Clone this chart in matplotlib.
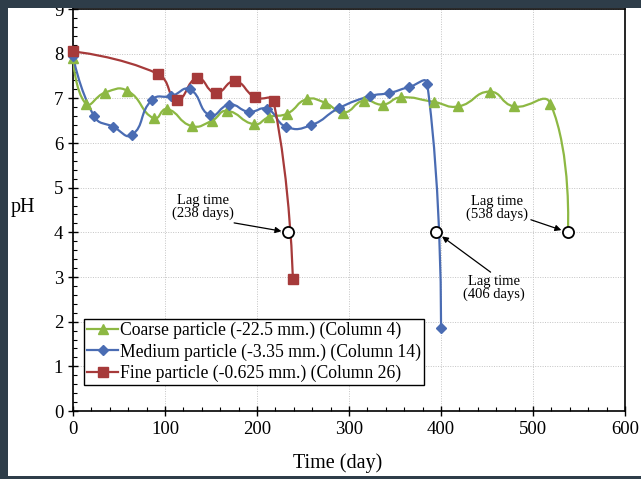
import numpy as np
import matplotlib.pyplot as plt
from matplotlib.path import Path
from matplotlib.patches import PathPatch, Rectangle
from matplotlib.ticker import MultipleLocator

plt.rcParams['font.family'] = ['Liberation Serif', 'DejaVu Serif']

# data
coarse_x = [0, 14, 35, 59, 88, 102, 129, 151, 167, 197, 213, 233, 254, 274,
            294, 316, 337, 356, 392, 419, 453, 479, 519, 538]
coarse_y = [7.9, 6.88, 7.13, 7.17, 6.55, 6.76, 6.38, 6.5, 6.72, 6.42, 6.58,
            6.66, 6.98, 6.9, 6.68, 6.95, 6.86, 7.02, 6.92, 6.82, 7.15, 6.82,
            6.88, 4.0]
medium_x = [0, 23, 44, 64, 86, 107, 127, 149, 170, 191, 211, 232, 259, 289,
            323, 344, 365, 385, 400]
medium_y = [7.95, 6.6, 6.36, 6.18, 6.97, 7.05, 7.2, 6.62, 6.86, 6.7, 6.76,
            6.36, 6.4, 6.78, 7.05, 7.12, 7.25, 7.33, 1.85]
fine_x = [0, 92, 113, 135, 155, 176, 198, 218, 239]
fine_y = [8.05, 7.55, 6.97, 7.45, 7.12, 7.38, 7.02, 6.93, 2.95]

lag_x = [234, 395, 538]
lag_y = [4.0, 4.0, 4.0]
lag_labels = ['Lag time\n(238 days)', 'Lag time\n(406 days)', 'Lag time\n(538 days)']

labels = ['Coarse particle (-22.5 mm.) (Column 4)',
          'Medium particle (-3.35 mm.) (Column 14)',
          'Fine particle (-0.625 mm.) (Column 26)']

green = '#8db843'
blue = '#4a6cb3'
red = '#a63a3a'

# pixels per data unit, used only to weigh the smoothing handles
SX, SY = 552 / 600, 402 / 9


def smooth_path(x, y, s=0.5):
    # smoothed line through the points (cubic Bezier segments)
    pts = np.column_stack([x, y]).astype(float)
    n = len(pts)
    seg = np.hypot(np.diff(pts[:, 0]) * SX, np.diff(pts[:, 1]) * SY)
    c_in = [None] * n
    c_out = [None] * n
    for i in range(n):
        if i == 0 or i == n - 1:
            c_in[i] = c_out[i] = pts[i]
            continue
        t = pts[i + 1] - pts[i - 1]
        d0, d1 = seg[i - 1], seg[i]
        c_in[i] = pts[i] - t * s * d0 / (d0 + d1)
        c_out[i] = pts[i] + t * s * d1 / (d0 + d1)
    verts = [pts[0]]
    codes = [Path.MOVETO]
    for i in range(n - 1):
        verts += [c_out[i], c_in[i + 1], pts[i + 1]]
        codes += [Path.CURVE4] * 3
    return Path(verts, codes)


fig = plt.figure(figsize=(6.41, 4.79), dpi=100)
ax = fig.add_axes([73 / 641, 68 / 479, 552 / 641, 402 / 479])

series = [
    (coarse_x[:-1], coarse_y[:-1], coarse_x, coarse_y, green, '^', 7),
    (medium_x, medium_y, medium_x, medium_y, blue, 'D', 5),
    (fine_x, fine_y, fine_x, fine_y, red, 's', 7),
]
handles = []
for (mx, my, lx, ly, col, mk, ms), lab in zip(series, labels):
    ax.add_patch(PathPatch(smooth_path(lx, ly), facecolor='none',
                           edgecolor=col, lw=1.6, zorder=3))
    ax.plot(mx, my, ls='none', marker=mk, ms=ms, color=col, zorder=4,
            clip_on=False)
    h, = ax.plot([], [], color=col, lw=1.6, marker=mk, ms=ms, label=lab)
    handles.append(h)

ax.plot(lag_x, lag_y, ls='none', marker='o', ms=8, mfc='white', mec='black',
        mew=1.3, zorder=5)

arrow = dict(arrowstyle='-|>', color='black', lw=0.9, mutation_scale=9,
             shrinkA=0, shrinkB=5)
ax.annotate(lag_labels[0], xy=(lag_x[0], lag_y[0]), xytext=(141, 4.57),
            ha='center', va='center', fontsize=10.5, linespacing=1.0,
            arrowprops=dict(arrow, relpos=(0.75, 0.0)))
ax.annotate(lag_labels[1], xy=(lag_x[1], lag_y[1]), xytext=(458, 2.75),
            ha='center', va='center', fontsize=10.5, linespacing=1.0,
            arrowprops=dict(arrow, relpos=(0.5, 1.0)))
ax.annotate(lag_labels[2], xy=(lag_x[2], lag_y[2]), xytext=(461, 4.54),
            ha='center', va='center', fontsize=10.5, linespacing=1.0,
            arrowprops=dict(arrow, relpos=(1.0, 0.1)))

ax.set_xlim(0, 600)
ax.set_ylim(0, 9)
ax.xaxis.set_major_locator(MultipleLocator(100))
ax.xaxis.set_minor_locator(MultipleLocator(20))
ax.yaxis.set_major_locator(MultipleLocator(1))
ax.yaxis.set_minor_locator(MultipleLocator(0.2))
ax.tick_params(which='major', direction='inout', length=7, width=1,
               labelsize=13.5)
ax.tick_params(which='minor', direction='in', length=3, width=0.8)
ax.grid(True, which='major', color='#c4c4c4', lw=0.7, ls=(0, (1, 1.5)))
for s in ax.spines.values():
    s.set_linewidth(1.2)

ax.set_xlabel('Time (day)', fontsize=14.5)
ax.xaxis.set_label_coords(0.48, -0.105)
ax.set_ylabel('pH', fontsize=14.5, rotation=0, va='center')
ax.yaxis.set_label_coords(-0.09, 0.505)

ax.legend(handles=handles, loc='lower left', bbox_to_anchor=(0.02, 0.065),
          fontsize=12.7, frameon=True, fancybox=False, edgecolor='black',
          framealpha=1, handlelength=1.8, handletextpad=0.1,
          borderpad=0.15, labelspacing=0.25, borderaxespad=0)

# dark screenshot frame
dark = '#2e3d49'
fig.add_artist(Rectangle((0, 0.983), 1, 0.02, transform=fig.transFigure,
                         facecolor=dark, edgecolor='none', zorder=10))
fig.add_artist(Rectangle((0, 0), 8 / 641, 1, transform=fig.transFigure,
                         facecolor=dark, edgecolor='none', zorder=10))
fig.add_artist(Rectangle((0, 0), 1, 3 / 479, transform=fig.transFigure,
                         facecolor=dark, edgecolor='none', zorder=10))

fig.savefig('out.png', dpi=100)
